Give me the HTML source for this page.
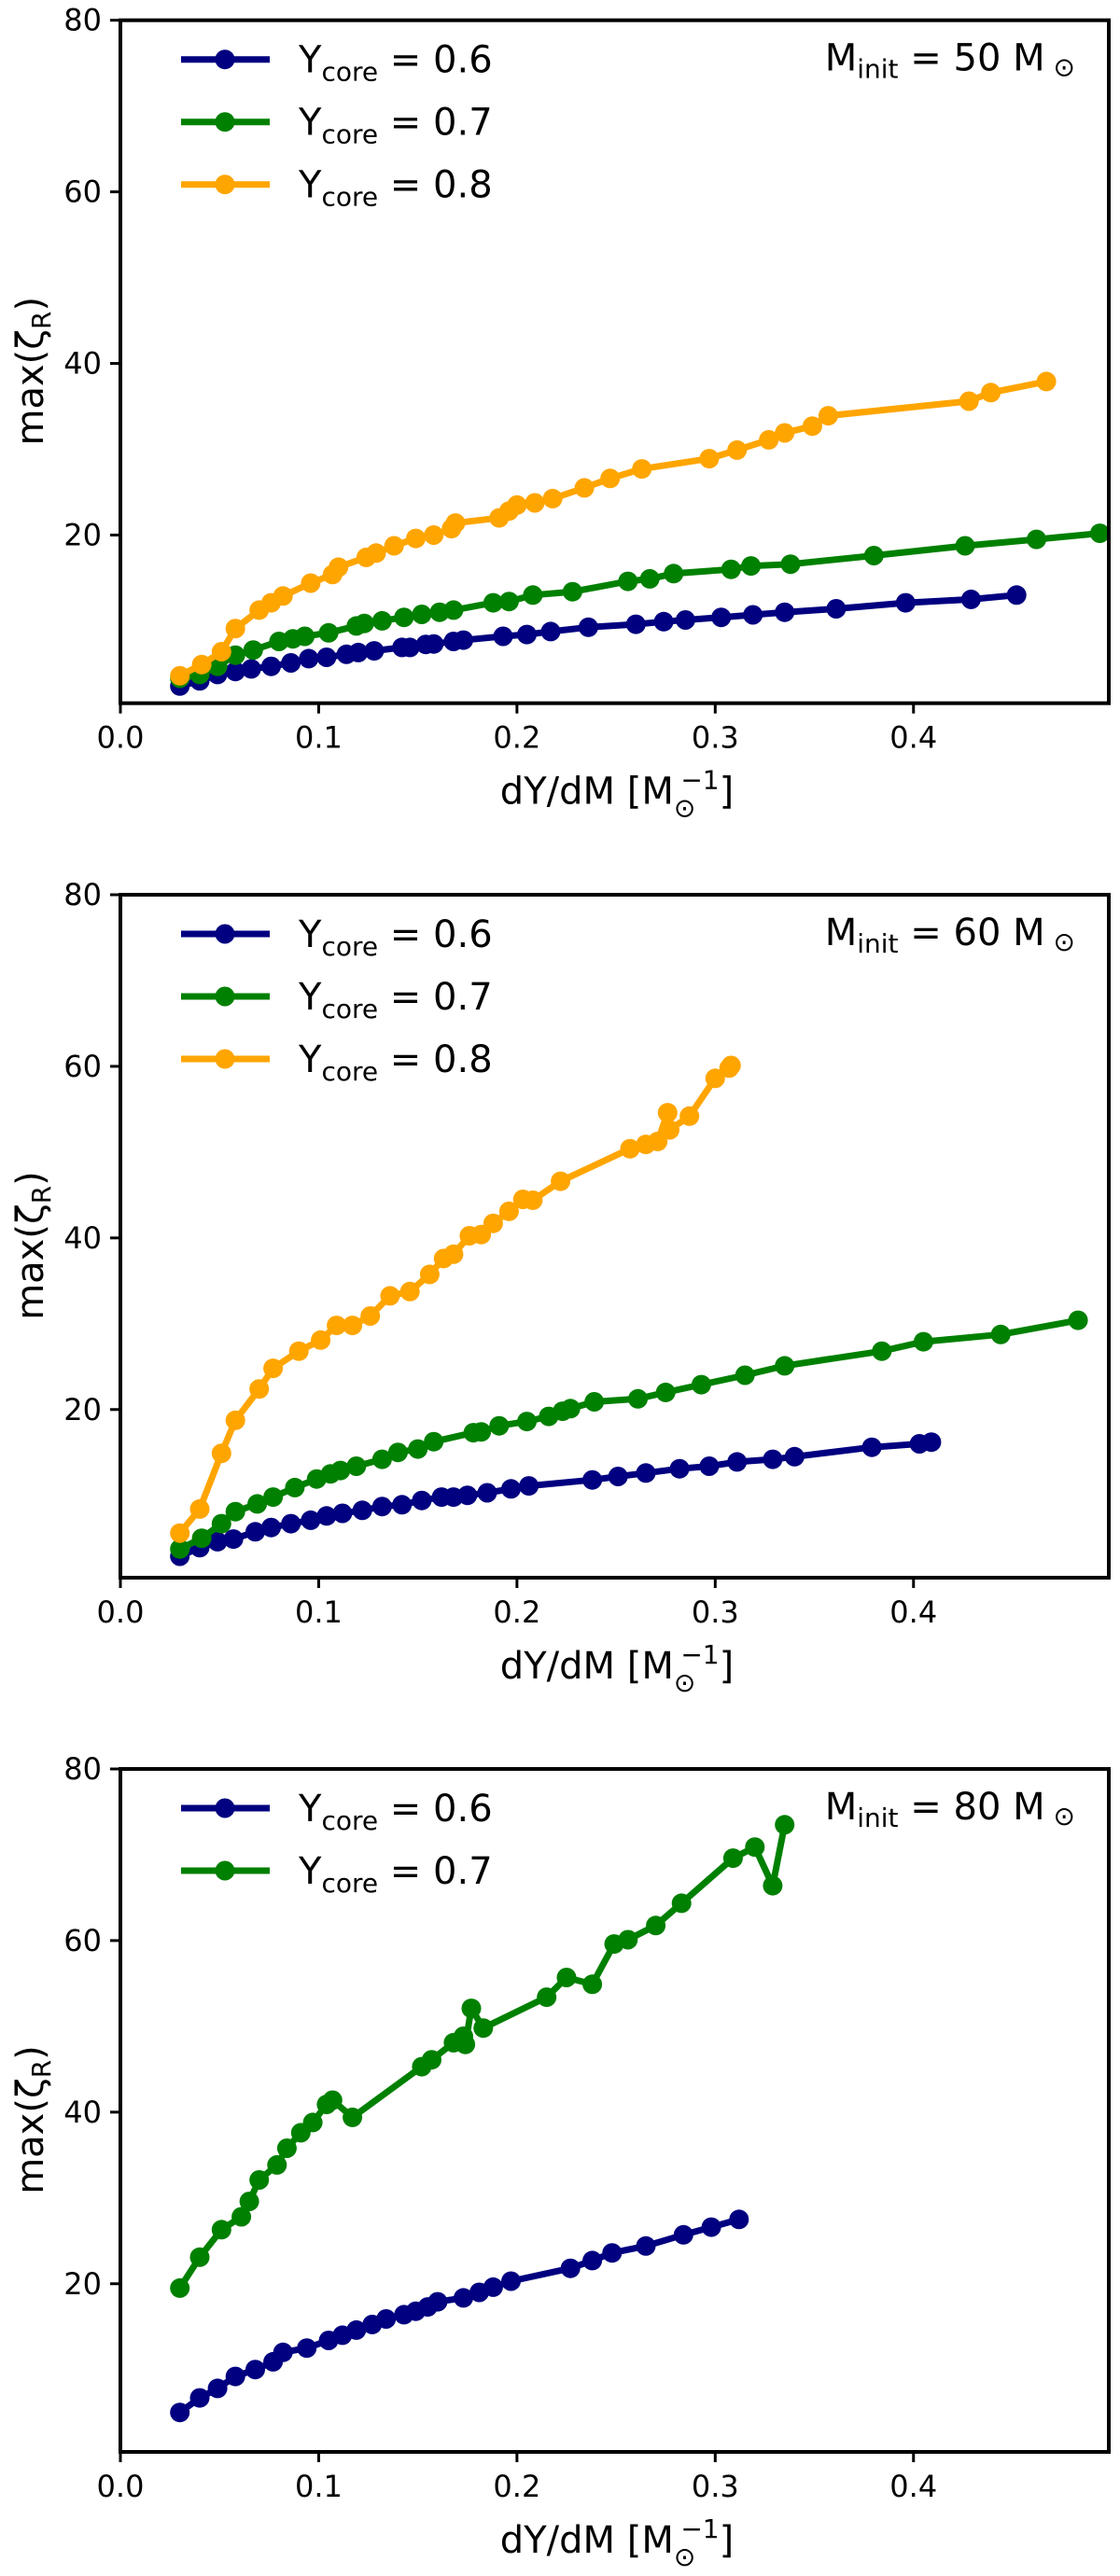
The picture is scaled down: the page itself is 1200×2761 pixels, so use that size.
<!DOCTYPE html>
<html><head><meta charset="utf-8">
<style>
html,body{margin:0;padding:0;background:#fff;}
svg{display:block;font-family:"DejaVu Sans","Liberation Sans",sans-serif;}
</style></head>
<body>
<svg id="fig" width="1200" height="2761" viewBox="0 0 1200 2761" xmlns="http://www.w3.org/2000/svg"></svg>
<script>
const xTicks = [0.0, 0.1, 0.2, 0.3, 0.4];
const xTickLabels = ["0.0", "0.1", "0.2", "0.3", "0.4"];
const yTicks = [20, 40, 60, 80];
const yTickLabels = ["20", "40", "60", "80"];
const seriesNames = ["0.6", "0.7", "0.8"];
const panelMasses = ["50", "60", "80"];

// Panel 1 (50 Msun)
const p1_y06_x = [.030,.040,.049,.058,.066,.076,.086,.095,.104,.114,.120,.128,.142,.146,.154,.158,.168,.173,.193,.205,.217,.236,.260,.274,.285,.303,.319,.335,.361,.396,.429,.452];
const p1_y06_y = [2.4,3.0,3.75,4.1,4.4,4.7,5.1,5.6,5.75,6.1,6.3,6.5,6.9,6.9,7.25,7.3,7.6,7.75,8.2,8.4,8.75,9.25,9.6,9.9,10.1,10.4,10.7,11.0,11.4,12.1,12.5,13.0];
const p1_y07_x = [.030,.040,.049,.058,.067,.080,.087,.093,.105,.119,.123,.132,.143,.152,.161,.168,.188,.196,.208,.228,.256,.267,.279,.308,.318,.338,.380,.426,.462,.494];
const p1_y07_y = [3.3,3.75,4.7,6.0,6.6,7.6,7.9,8.2,8.6,9.4,9.7,10.0,10.4,10.75,11.0,11.25,12.1,12.25,13.0,13.4,14.6,14.9,15.5,16.0,16.4,16.6,17.6,18.75,19.5,20.2];
const p1_y08_x = [.030,.041,.051,.058,.070,.076,.082,.096,.107,.110,.124,.129,.138,.149,.158,.167,.169,.191,.196,.200,.209,.218,.234,.247,.263,.297,.311,.327,.335,.349,.357,.428,.439,.467];
const p1_y08_y = [3.6,4.9,6.4,9.1,11.25,12.1,12.9,14.4,15.4,16.25,17.4,17.9,18.75,19.6,20.0,20.75,21.4,22.0,22.8,23.5,23.75,24.25,25.5,26.6,27.7,28.9,29.9,31.1,31.9,32.7,33.9,35.6,36.6,37.9];

// Panel 2 (60 Msun)
const p2_y06_x = [.030,.040,.049,.057,.068,.076,.086,.096,.104,.112,.122,.132,.142,.152,.162,.168,.175,.185,.197,.206,.238,.251,.265,.282,.297,.311,.329,.340,.379,.403,.409];
const p2_y06_y = [2.9,3.9,4.6,4.9,5.75,6.25,6.7,7.1,7.6,7.9,8.25,8.7,8.9,9.4,9.8,9.8,10.0,10.3,10.75,11.1,11.8,12.2,12.6,13.1,13.4,13.9,14.2,14.5,15.6,16.0,16.2];
const p2_y07_x = [.030,.041,.051,.058,.069,.077,.088,.099,.106,.111,.119,.132,.140,.150,.158,.178,.182,.191,.205,.216,.223,.227,.239,.261,.275,.293,.315,.335,.384,.405,.444,.483];
const p2_y07_y = [3.75,5.0,6.7,8.1,9.0,9.8,10.9,11.9,12.5,12.9,13.4,14.2,15.0,15.4,16.25,17.3,17.4,18.1,18.6,19.2,19.8,20.1,20.9,21.25,22.0,22.9,24.0,25.1,26.8,27.9,28.75,30.4];
const p2_y08_x = [.030,.040,.051,.058,.070,.077,.090,.101,.109,.117,.126,.136,.146,.156,.163,.168,.176,.182,.188,.196,.203,.208,.222,.257,.265,.271,.276,.277,.287,.300,.307,.308];
const p2_y08_y = [5.6,8.4,14.9,18.75,22.4,24.8,26.8,28.1,29.8,29.8,30.9,33.25,33.75,35.75,37.6,38.1,40.25,40.4,41.7,43.1,44.5,44.4,46.6,50.4,50.9,51.25,54.6,52.6,54.2,58.6,59.8,60.1];

// Panel 3 (80 Msun)
const p3_y06_x = [.030,.040,.049,.058,.068,.077,.082,.094,.105,.112,.119,.127,.134,.143,.149,.155,.160,.173,.181,.188,.197,.227,.238,.248,.265,.284,.298,.312];
const p3_y06_y = [5.0,6.7,7.8,9.2,10.0,10.9,12.0,12.5,13.4,14.0,14.6,15.25,15.9,16.4,16.8,17.3,17.9,18.35,19.0,19.6,20.3,21.8,22.7,23.6,24.4,25.7,26.6,27.5];
const p3_y07_x = [.030,.040,.051,.061,.065,.070,.079,.084,.091,.097,.104,.107,.117,.152,.157,.168,.173,.174,.177,.183,.215,.225,.238,.249,.256,.270,.283,.309,.320,.329,.335];
const p3_y07_y = [19.5,23.1,26.3,27.8,29.6,32.1,33.85,35.8,37.6,38.8,40.9,41.4,39.4,45.3,46.1,48.1,48.85,47.9,52.1,49.8,53.4,55.7,54.9,59.6,60.1,61.75,64.35,69.6,70.9,66.4,73.5];

const colors = ["#000080", "#008000", "#FFA500"];
const panels = [
  {top: 21.7, series: [[p1_y06_x,p1_y06_y],[p1_y07_x,p1_y07_y],[p1_y08_x,p1_y08_y]]},
  {top: 959, series: [[p2_y06_x,p2_y06_y],[p2_y07_x,p2_y07_y],[p2_y08_x,p2_y08_y]]},
  {top: 1896, series: [[p3_y06_x,p3_y06_y],[p3_y07_x,p3_y07_y]]}
];

const NS = "http://www.w3.org/2000/svg";
const svg = document.getElementById('fig');
const L = 129, R = 1188, XMIN = 0, XMAX = 0.4985, YMIN = 0.4, YMAX = 80, H = 732;
function mk(tag, attrs, parent){ const e = document.createElementNS(NS, tag); for (const k in attrs) e.setAttribute(k, attrs[k]); parent.appendChild(e); return e; }

panels.forEach((p, pi) => {
  const g = mk('g', {}, svg);
  
  
  const T = p.top, B = T + H;
  const xs = v => L + (v - XMIN) / (XMAX - XMIN) * (R - L);
  const ys = v => B - (v - YMIN) / (YMAX - YMIN) * H;

  p.series.forEach((s, si) => {
    const sg = mk('g', {}, g);
    
    
    const pts = s[0].map((x, i) => xs(x).toFixed(1) + ',' + ys(s[1][i]).toFixed(1)).join(' ');
    const pl = mk('polyline', {points: pts, fill: 'none', stroke: colors[si], 'stroke-width': 7, 'stroke-linejoin': 'round'}, sg);
    
    
    s[0].forEach((x, i) => {
      const c = mk('circle', {cx: xs(x).toFixed(1), cy: ys(s[1][i]).toFixed(1), r: 10.5, fill: colors[si]}, sg);
      
      
    });
  });

  const fr = mk('rect', {x: L, y: T, width: R - L, height: H, fill: 'none', stroke: '#000', 'stroke-width': 4}, g);
  
  

  xTicks.forEach((v, i) => {
    mk('line', {x1: xs(v), x2: xs(v), y1: B, y2: B + 11, stroke: '#000', 'stroke-width': 3}, g);
    const t = mk('text', {x: xs(v), y: B + 48, 'font-size': 32, 'text-anchor': 'middle', fill: '#000'}, g);
    t.textContent = xTickLabels[i];
    
    
  });
  yTicks.forEach((v, i) => {
    mk('line', {x1: L - 11, x2: L, y1: ys(v), y2: ys(v), stroke: '#000', 'stroke-width': 3}, g);
    const t = mk('text', {x: L - 20, y: ys(v) + 11, 'font-size': 32, 'text-anchor': 'end', fill: '#000'}, g);
    t.textContent = yTickLabels[i];
    
    
  });

  const xl = mk('text', {x: 661, y: B + 108, 'font-size': 40, 'text-anchor': 'middle', fill: '#000'}, g);
  xl.innerHTML = 'dY/dM [M<tspan font-size="28" dy="14">⊙</tspan><tspan font-size="28" dy="-30" dx="-16">−1</tspan><tspan dy="16">]</tspan>';
  
  

  const yl = mk('text', {x: 0, y: 0, 'font-size': 40, 'text-anchor': 'middle', fill: '#000', transform: 'translate(46,' + (T + 376) + ') rotate(-90)'}, g);
  yl.innerHTML = 'max(ζ<tspan font-size="28" dy="8">R</tspan><tspan dy="-8">)</tspan>';
  
  

  const an = mk('text', {x: 1152, y: T + 54, 'font-size': 40, 'text-anchor': 'end', fill: '#000'}, g);
  an.innerHTML = 'M<tspan font-size="28" dy="8">init</tspan><tspan dy="-8"> =  ' + panelMasses[pi] + ' M</tspan><tspan font-size="28" dy="6"> ⊙</tspan>';
  
  

  p.series.forEach((s, si) => {
    const ly = T + 42 + si * 67;
    const lg = mk('g', {}, g);
    
    
    mk('line', {x1: 194, x2: 289, y1: ly, y2: ly, stroke: colors[si], 'stroke-width': 7}, lg);
    mk('circle', {cx: 241, cy: ly, r: 10.5, fill: colors[si]}, lg);
    const lt = mk('text', {x: 320, y: ly + 14, 'font-size': 40, fill: '#000'}, lg);
    lt.innerHTML = 'Y<tspan font-size="28" dy="9">core</tspan><tspan dy="-9"> = ' + seriesNames[si] + '</tspan>';
  });
});
</script>
</body></html>
